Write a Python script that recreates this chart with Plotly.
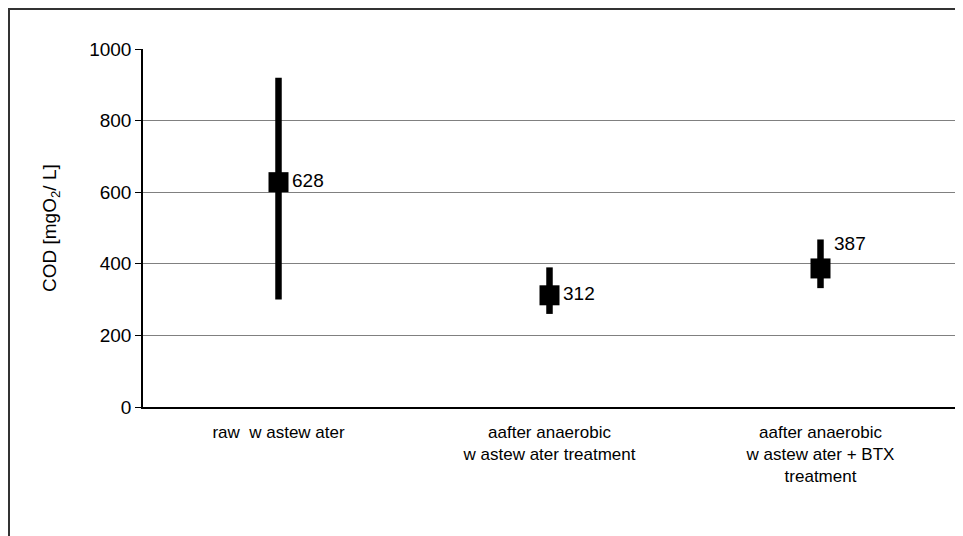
import plotly.graph_objects as go

categories = ["raw  w astew ater",
              "aafter anaerobic<br>w astew ater treatment",
              "aafter anaerobic<br>w astew ater + BTX<br>treatment"]
mean_values = [628, 312, 387]
max_values = [920, 390, 468]
min_values = [300, 260, 332]
label_positions = ["middle right", "middle right", "top right"]
y_ticks = [0, 200, 400, 600, 800, 1000]

# page body has an 8px margin; figure occupies 8..963 x 8..536
W, H = 955, 528
L, R, T, B = 135, 7, 41, 129
pw, ph = W - L - R, H - T - B

FONT = "Liberation Sans, Arial, sans-serif"

fig = go.Figure()
fig.add_trace(go.Scatter(
    x=categories, y=mean_values,
    mode="markers+text",
    marker=dict(symbol="square", size=20, color="black"),
    error_y=dict(type="data", symmetric=False,
                 array=[mx - m for mx, m in zip(max_values, mean_values)],
                 arrayminus=[m - mn for m, mn in zip(mean_values, min_values)],
                 thickness=6.5, width=0, color="black"),
    text=[str(v) for v in mean_values],
    textposition=label_positions,
    textfont=dict(family=FONT, size=19, color="black"),
    cliponaxis=False,
    showlegend=False,
))

fig.update_layout(
    width=W, height=H,
    margin=dict(l=L, r=R, t=T, b=B),
    paper_bgcolor="white", plot_bgcolor="white",
    font=dict(family=FONT, size=19, color="black"),
    xaxis=dict(type="category", showgrid=False, showline=True, linecolor="black",
               linewidth=1.5, ticks="outside", ticklen=9, tickcolor="rgba(0,0,0,0)",
               tickfont=dict(family=FONT, size=17), range=[-0.5, 2.5]),
    yaxis=dict(range=[0, 1000], tickvals=y_ticks, showgrid=True, gridcolor="#808080",
               gridwidth=1, showline=True, linecolor="black", linewidth=1.5,
               ticks="outside", ticklen=6, tickcolor="black", tickfont=dict(size=19),
               zeroline=False),
    annotations=[dict(text="COD [mgO<sub>2</sub>/ L]", xref="paper", yref="paper",
                      x=(43 - L) / pw, y=(H - B - 220) / ph, textangle=-90, showarrow=False,
                      font=dict(size=19), xanchor="center", yanchor="middle")],
    shapes=[
        dict(type="line", xref="paper", yref="paper", x0=1, x1=1, y0=0, y1=1,
             line=dict(color="#808080", width=2)),
        dict(type="rect", xref="paper", yref="paper",
             x0=(1 - L) / pw, x1=(954 - L) / pw,
             y0=(H - B - 545) / ph, y1=(H - B - 1) / ph,
             line=dict(color="#333333", width=2)),
    ],
)

fig.write_html("out.html")
